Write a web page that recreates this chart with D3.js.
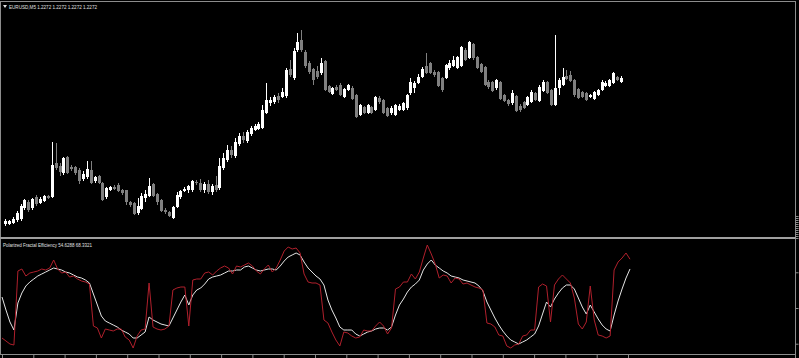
<!DOCTYPE html>
<html>
<head>
<meta charset="utf-8">
<script src="https://cdn.jsdelivr.net/npm/d3@7"></script>
<style>
  html, body { margin: 0; padding: 0; background: #000; overflow: hidden; }
  text { font-family: 'Liberation Sans', Arial, sans-serif; }
</style>
</head>
<body>
<svg id="chart" width="799" height="358"></svg>
<script>
const symbol = 'EURUSD,M5';
const quote = [1.2272, 1.2272, 1.2272, 1.2272];
const indicatorName = 'Polarized Fractal Efficiency';

const open = [
  1.2126, 1.2126, 1.2127, 1.2130, 1.2131, 1.2142, 1.2148, 1.2142, 1.2153, 1.2147,
  1.2149, 1.2154, 1.2153, 1.2187, 1.2184, 1.2177, 1.2193, 1.2183, 1.2183, 1.2180,
  1.2171, 1.2173, 1.2180, 1.2169, 1.2174, 1.2167, 1.2153, 1.2160, 1.2163, 1.2165,
  1.2160, 1.2160, 1.2148, 1.2147, 1.2137, 1.2141, 1.2152, 1.2154, 1.2166, 1.2156,
  1.2150, 1.2140, 1.2138, 1.2132, 1.2143, 1.2153, 1.2159, 1.2160, 1.2160, 1.2168,
  1.2167, 1.2160, 1.2166, 1.2158, 1.2165, 1.2162, 1.2182, 1.2190, 1.2200, 1.2194,
  1.2206, 1.2214, 1.2209, 1.2216, 1.2220, 1.2221, 1.2222, 1.2237, 1.2247, 1.2248,
  1.2254, 1.2253, 1.2254, 1.2281, 1.2272, 1.2300, 1.2310, 1.2298, 1.2287, 1.2281,
  1.2279, 1.2277, 1.2289, 1.2264, 1.2256, 1.2263, 1.2265, 1.2253, 1.2260, 1.2262,
  1.2255, 1.2235, 1.2243, 1.2237, 1.2243, 1.2240, 1.2252, 1.2250, 1.2242, 1.2237,
  1.2235, 1.2240, 1.2240, 1.2242, 1.2257, 1.2262, 1.2267, 1.2273, 1.2284, 1.2287,
  1.2278, 1.2278, 1.2272, 1.2272, 1.2282, 1.2284, 1.2282, 1.2284, 1.2300, 1.2292,
  1.2306, 1.2293, 1.2286, 1.2283, 1.2268, 1.2268, 1.2262, 1.2268, 1.2255, 1.2250,
  1.2247, 1.2254, 1.2244, 1.2248, 1.2245, 1.2248, 1.2257, 1.2249, 1.2259, 1.2268,
  1.2260, 1.2245, 1.2262, 1.2265, 1.2274, 1.2275, 1.2270, 1.2261, 1.2258, 1.2257,
  1.2253, 1.2251, 1.2255, 1.2260, 1.2264, 1.2264, 1.2267, 1.2273, 1.2268
];
const high = [
  1.2131, 1.2130, 1.2133, 1.2139, 1.2146, 1.2151, 1.2150, 1.2152, 1.2155, 1.2153,
  1.2155, 1.2155, 1.2208, 1.2207, 1.2187, 1.2193, 1.2194, 1.2185, 1.2184, 1.2182,
  1.2179, 1.2189, 1.2189, 1.2174, 1.2175, 1.2168, 1.2163, 1.2164, 1.2165, 1.2167,
  1.2161, 1.2160, 1.2149, 1.2148, 1.2152, 1.2157, 1.2160, 1.2172, 1.2167, 1.2157,
  1.2151, 1.2142, 1.2139, 1.2144, 1.2158, 1.2160, 1.2163, 1.2165, 1.2170, 1.2170,
  1.2171, 1.2168, 1.2170, 1.2166, 1.2174, 1.2192, 1.2197, 1.2205, 1.2204, 1.2212,
  1.2217, 1.2218, 1.2220, 1.2224, 1.2226, 1.2228, 1.2245, 1.2267, 1.2253, 1.2255,
  1.2257, 1.2262, 1.2282, 1.2290, 1.2302, 1.2317, 1.2320, 1.2300, 1.2289, 1.2282,
  1.2284, 1.2292, 1.2290, 1.2265, 1.2263, 1.2265, 1.2267, 1.2262, 1.2266, 1.2264,
  1.2256, 1.2246, 1.2244, 1.2246, 1.2244, 1.2254, 1.2254, 1.2251, 1.2243, 1.2244,
  1.2246, 1.2246, 1.2248, 1.2256, 1.2272, 1.2269, 1.2276, 1.2283, 1.2297, 1.2288,
  1.2280, 1.2279, 1.2273, 1.2286, 1.2290, 1.2294, 1.2294, 1.2304, 1.2302, 1.2309,
  1.2307, 1.2294, 1.2287, 1.2284, 1.2270, 1.2269, 1.2271, 1.2269, 1.2256, 1.2251,
  1.2260, 1.2255, 1.2246, 1.2249, 1.2254, 1.2260, 1.2258, 1.2265, 1.2270, 1.2269,
  1.2261, 1.2315, 1.2272, 1.2282, 1.2280, 1.2279, 1.2271, 1.2262, 1.2259, 1.2258,
  1.2256, 1.2259, 1.2261, 1.2270, 1.2269, 1.2271, 1.2278, 1.2274, 1.2274
];
const low = [
  1.2124, 1.2125, 1.2126, 1.2128, 1.2129, 1.2140, 1.2138, 1.2140, 1.2144, 1.2146,
  1.2148, 1.2151, 1.2152, 1.2180, 1.2174, 1.2175, 1.2176, 1.2179, 1.2175, 1.2166,
  1.2169, 1.2171, 1.2166, 1.2167, 1.2166, 1.2149, 1.2151, 1.2159, 1.2160, 1.2158,
  1.2155, 1.2145, 1.2143, 1.2135, 1.2135, 1.2140, 1.2148, 1.2153, 1.2153, 1.2145,
  1.2138, 1.2136, 1.2133, 1.2131, 1.2142, 1.2151, 1.2158, 1.2157, 1.2158, 1.2165,
  1.2158, 1.2157, 1.2156, 1.2155, 1.2158, 1.2160, 1.2180, 1.2188, 1.2192, 1.2192,
  1.2204, 1.2207, 1.2207, 1.2214, 1.2219, 1.2220, 1.2221, 1.2236, 1.2244, 1.2246,
  1.2247, 1.2252, 1.2252, 1.2273, 1.2270, 1.2298, 1.2298, 1.2282, 1.2276, 1.2265,
  1.2271, 1.2275, 1.2259, 1.2257, 1.2255, 1.2259, 1.2254, 1.2252, 1.2259, 1.2250,
  1.2232, 1.2234, 1.2236, 1.2236, 1.2236, 1.2239, 1.2246, 1.2236, 1.2233, 1.2235,
  1.2234, 1.2239, 1.2239, 1.2240, 1.2255, 1.2257, 1.2266, 1.2272, 1.2276, 1.2276,
  1.2273, 1.2263, 1.2258, 1.2271, 1.2280, 1.2283, 1.2281, 1.2283, 1.2289, 1.2291,
  1.2290, 1.2281, 1.2277, 1.2264, 1.2261, 1.2258, 1.2260, 1.2250, 1.2248, 1.2244,
  1.2245, 1.2238, 1.2238, 1.2241, 1.2244, 1.2247, 1.2249, 1.2248, 1.2258, 1.2256,
  1.2244, 1.2244, 1.2255, 1.2264, 1.2270, 1.2268, 1.2253, 1.2251, 1.2252, 1.2249,
  1.2252, 1.2250, 1.2254, 1.2259, 1.2263, 1.2263, 1.2266, 1.2269, 1.2267
];
const close = [
  1.2129, 1.2129, 1.2131, 1.2137, 1.2144, 1.2150, 1.2140, 1.2151, 1.2146, 1.2151,
  1.2154, 1.2152, 1.2185, 1.2182, 1.2178, 1.2192, 1.2177, 1.2181, 1.2177, 1.2169,
  1.2176, 1.2181, 1.2167, 1.2173, 1.2167, 1.2150, 1.2162, 1.2163, 1.2161, 1.2159,
  1.2157, 1.2148, 1.2145, 1.2136, 1.2144, 1.2154, 1.2156, 1.2164, 1.2154, 1.2148,
  1.2139, 1.2138, 1.2134, 1.2143, 1.2155, 1.2159, 1.2161, 1.2164, 1.2169, 1.2167,
  1.2160, 1.2166, 1.2158, 1.2164, 1.2160, 1.2184, 1.2192, 1.2200, 1.2195, 1.2208,
  1.2214, 1.2210, 1.2218, 1.2222, 1.2224, 1.2226, 1.2240, 1.2250, 1.2250, 1.2253,
  1.2250, 1.2258, 1.2280, 1.2275, 1.2299, 1.2308, 1.2300, 1.2284, 1.2278, 1.2270,
  1.2273, 1.2287, 1.2260, 1.2258, 1.2262, 1.2260, 1.2255, 1.2261, 1.2265, 1.2251,
  1.2233, 1.2245, 1.2237, 1.2245, 1.2237, 1.2253, 1.2248, 1.2237, 1.2234, 1.2242,
  1.2245, 1.2244, 1.2247, 1.2255, 1.2268, 1.2267, 1.2273, 1.2281, 1.2277, 1.2277,
  1.2275, 1.2264, 1.2260, 1.2285, 1.2287, 1.2290, 1.2293, 1.2303, 1.2290, 1.2308,
  1.2292, 1.2282, 1.2278, 1.2265, 1.2263, 1.2259, 1.2270, 1.2251, 1.2249, 1.2246,
  1.2257, 1.2239, 1.2240, 1.2242, 1.2253, 1.2258, 1.2250, 1.2263, 1.2268, 1.2257,
  1.2245, 1.2262, 1.2270, 1.2273, 1.2271, 1.2269, 1.2255, 1.2252, 1.2253, 1.2250,
  1.2255, 1.2258, 1.2260, 1.2268, 1.2267, 1.2270, 1.2277, 1.2270, 1.2272
];

// Polarized Fractal Efficiency (red) and its smoothed signal (white).
const pfe = [
  -42, -46.2, -50.4, -51.8, 51.8, 54.6, 44.8, 49, 50.4, 51.8,
  54.6, 53.2, 56, 67.2, 54.6, 49, 50.4, 43.4, 44.8, 40.6,
  37.8, 36.4, 33.6, -25.2, -28, -42, -29.4, -30.8, -32.2, -29.4,
  -29.4, -40.6, -44.8, -56, -39.2, -30.8, -29.4, 35, -26.6, -29.4,
  -30.8, -29.4, -25.2, 25.2, 28, 29.4, 29.4, -25.2, 39.2, 40.6,
  40.6, 49, 50.4, 46.2, 51.8, 56, 58.8, 56, 47.6, 58.8,
  57.4, 60.2, 63, 58.8, 51.8, 47.6, 54.6, 60.2, 50.4, 56,
  67.2, 79.8, 85.4, 82.6, 84, 77, 47.6, 36.4, 35, 35,
  32.2, -16.8, -21, -33.6, -44.8, -53.2, -33.6, -35, -39.2, -42,
  -40.6, -30.8, -32.2, -32.2, -25.2, -19.6, -25.2, -36.4, -28, 26.6,
  29.4, 36.4, 36.4, 47.6, 40.6, 50.4, 70, 88.2, 75.6, 61.6,
  42, 46.2, 44.8, 35, 42, 40.6, 33.6, 35, 32.2, 29.4,
  28, 25.2, -21, -22.4, -26.6, -37.8, -39.2, -53.2, -56, -51.8,
  -50.4, -39.2, -37.8, -30.8, -30.8, 29.4, 33.6, 30.8, -19.6, 32.2,
  40.6, 46.2, 40.6, 35, 14, -22.4, -29.4, -19.6, 30.8, -16.8,
  -37.8, -39.2, -42, -39.2, 53.2, 64.4, 70, 77, 68.3321
];
const signal = [
  15.4, -2.8, -19.6, -30.8, 7, 21, 30.8, 36.4, 40.6, 44.8,
  47.6, 50.4, 53.2, 56, 54.6, 53.2, 50.4, 49, 46.2, 43.4,
  42, 39.2, 35, 19.6, 4.2, -11.2, -18.2, -21, -23.8, -26.6,
  -30.8, -33.6, -36.4, -42, -42, -37.8, -33.6, -12.6, -16.8, -19.6,
  -22.4, -23.8, -25.2, -14, -2.8, 8.4, 18.2, 4.2, 18.2, 25.2,
  28, 33.6, 40.6, 43.4, 44.8, 46.2, 49, 51.8, 51.8, 53.2,
  53.2, 57.4, 58.8, 56, 53.2, 51.8, 53.2, 54.6, 54.6, 53.2,
  58.8, 65.8, 71.4, 74.2, 77, 74.2, 64.4, 56, 50.4, 44.8,
  40.6, 32.2, 11.2, -2.8, -14, -26.6, -30.8, -30.8, -30.8, -36.4,
  -39.2, -36.4, -33.6, -32.2, -29.4, -28, -28, -30.8, -26.6, -9.8,
  4.2, 12.6, 22.4, 29.4, 33.6, 39.2, 53.2, 61.6, 67.2, 60.2,
  56, 51.8, 49, 44.8, 43.4, 42, 39.2, 37.8, 36.4, 35,
  30.8, 23.8, 8.4, -2.8, -14, -23.8, -32.2, -39.2, -44.8, -47.6,
  -50.4, -47.6, -44.8, -40.6, -36.4, -25.2, -8.4, 8.4, 1.4, 12.6,
  21, 28, 32.2, 32.2, 26.6, 14, 1.4, -8.4, 4.2, -5.6,
  -15.4, -23.8, -29.4, -32.2, -9.8, 9.8, 26.6, 42, 54.6288
];

const width = 799;
const height = 358;
const rightEdge = 795;
const mainTop = 2;
const mainBottom = 236;
const subTop = 240;
const subBottom = 354;

const FRAME = '#8c8c8c';
const BULL = '#ffffff';
const BEAR = '#808080';
const PFE_RED = '#b0202c';
const SIGNAL_WHITE = '#e6e6e6';
const LABEL = '#e0e0e0';

const svg = d3.select('#chart');

svg.append('rect')
  .attr('width', width)
  .attr('height', height)
  .attr('fill', '#000');

const defs = svg.append('defs');
defs.append('clipPath').attr('id', 'clipMain')
  .append('rect')
  .attr('x', 2).attr('y', mainTop + 1)
  .attr('width', rightEdge - 2).attr('height', mainBottom - mainTop);
defs.append('clipPath').attr('id', 'clipSub')
  .append('rect')
  .attr('x', 1).attr('y', subTop)
  .attr('width', rightEdge - 1).attr('height', subBottom - subTop);

// Scales.
const xBar = d3.scaleLinear().domain([0, close.length - 1]).range([5, 621]);
const xInd = d3.scaleLinear().domain([0, pfe.length - 1]).range([2, 630]);
const xTime = d3.scaleLinear().domain([0, 160]).range([2, 628]);
const yPrice = d3.scaleLinear().domain([1.2114, 1.2348]).range([mainBottom, mainTop]);
const yPfe = d3.scaleLinear().domain([-64.4, 95.2]).range([subBottom, subTop]);

// Candles.
const bars = close.map((c, i) => ({ i, o: open[i], h: high[i], l: low[i], c }));
const colour = d => d.c >= d.o ? BULL : BEAR;

const candle = svg.append('g')
  .attr('clip-path', 'url(#clipMain)')
  .selectAll('g')
  .data(bars)
  .join('g')
  .attr('transform', d => `translate(${Math.round(xBar(d.i))},0)`);

candle.append('line')
  .attr('x1', 0.5)
  .attr('x2', 0.5)
  .attr('y1', d => Math.round(yPrice(d.h)))
  .attr('y2', d => Math.round(yPrice(d.l)))
  .attr('stroke', colour)
  .attr('stroke-width', 1);

candle.append('rect')
  .attr('x', -1)
  .attr('width', 3)
  .attr('y', d => Math.round(yPrice(Math.max(d.o, d.c))))
  .attr('height', d => Math.max(1, Math.round(Math.abs(yPrice(d.o) - yPrice(d.c)))))
  .attr('fill', colour);

// Indicator lines.
const line = d3.line()
  .x((d, i) => xInd(i))
  .y(d => yPfe(d));

const sub = svg.append('g').attr('clip-path', 'url(#clipSub)');

sub.append('path')
  .datum(signal)
  .attr('d', line)
  .attr('fill', 'none')
  .attr('stroke', SIGNAL_WHITE)
  .attr('stroke-width', 1);

sub.append('path')
  .datum(pfe)
  .attr('d', line)
  .attr('fill', 'none')
  .attr('stroke', PFE_RED)
  .attr('stroke-width', 1);

// Frame and pane separator.
const frame = svg.append('g').attr('stroke', FRAME).attr('stroke-width', 1);
frame.append('line').attr('x1', 0).attr('x2', rightEdge).attr('y1', 1.5).attr('y2', 1.5);
frame.append('line').attr('x1', 0.5).attr('x2', 0.5).attr('y1', 1).attr('y2', subBottom);
frame.append('line').attr('x1', 0).attr('x2', rightEdge).attr('y1', subBottom + 0.5).attr('y2', subBottom + 0.5);
frame.append('line').attr('x1', rightEdge + 0.5).attr('x2', rightEdge + 0.5).attr('y1', 1).attr('y2', height);

svg.append('rect')
  .attr('x', 0).attr('y', mainBottom + 1)
  .attr('width', rightEdge + 1).attr('height', 2)
  .attr('fill', '#a0a0a0');

// Time axis ticks (labels fall outside the picture).
const timeAxis = d3.axisBottom(xTime)
  .tickValues(d3.range(0, 161, 8))
  .tickSize(4)
  .tickFormat('');
svg.append('g')
  .attr('transform', `translate(0,${subBottom + 0.5})`)
  .call(timeAxis)
  .call(g => g.select('.domain').remove())
  .call(g => g.selectAll('.tick line').attr('stroke', FRAME));

// Price axis ticks on the right edge.
const priceAxis = d3.axisRight(yPrice)
  .tickValues(d3.range(12, 35, 2).map(k => 1.2100 + k / 10000))
  .tickSize(3)
  .tickFormat('');
svg.append('g')
  .attr('transform', `translate(${rightEdge + 0.5},0)`)
  .call(priceAxis)
  .call(g => g.select('.domain').remove())
  .call(g => g.selectAll('.tick line').attr('stroke', FRAME));

const pfeAxis = d3.axisRight(yPfe)
  .tickValues([-50, 0, 50])
  .tickSize(3)
  .tickFormat('');
svg.append('g')
  .attr('transform', `translate(${rightEdge + 0.5},0)`)
  .call(pfeAxis)
  .call(g => g.select('.domain').remove())
  .call(g => g.selectAll('.tick line').attr('stroke', FRAME));

// Titles.
svg.append('path')
  .attr('d', 'M3,5 L7,5 L5,8 Z')
  .attr('fill', LABEL);

svg.append('text')
  .attr('x', 9)
  .attr('y', 9)
  .attr('fill', LABEL)
  .attr('font-size', 6)
  .attr('textLength', 88)
  .attr('lengthAdjust', 'spacingAndGlyphs')
  .text(`${symbol}  ${quote.map(d => d.toFixed(4)).join(' ')}`);

svg.append('text')
  .attr('x', 3)
  .attr('y', 247)
  .attr('fill', LABEL)
  .attr('font-size', 6)
  .attr('textLength', 89)
  .attr('lengthAdjust', 'spacingAndGlyphs')
  .text(`${indicatorName} ${signal[signal.length - 1].toFixed(4)} ${pfe[pfe.length - 1].toFixed(4)}`);
</script>
</body>
</html>
